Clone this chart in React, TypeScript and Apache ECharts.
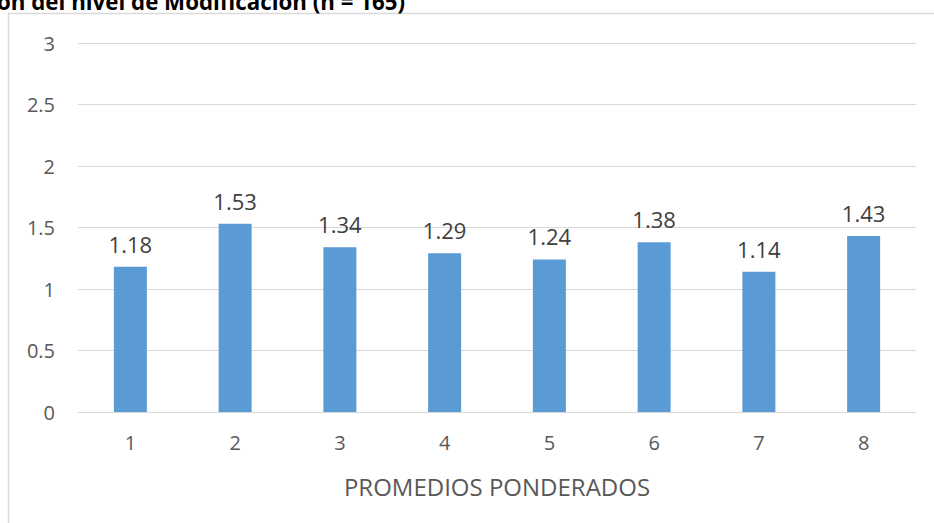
import React, { useEffect, useRef } from "react";
import * as echarts from "echarts";

const categories = ["1", "2", "3", "4", "5", "6", "7", "8"];
const values = [1.18, 1.53, 1.34, 1.29, 1.24, 1.38, 1.14, 1.43];
const yTicks = [0, 0.5, 1, 1.5, 2, 2.5, 3];
const titleText = "ón del nivel de Modificación (n = 165)";
const xAxisTitle = "PROMEDIOS PONDERADOS";

export default function App() {
  const ref = useRef<HTMLDivElement>(null);
  useEffect(() => {
    if (!ref.current) return;
    const chart = echarts.init(ref.current, null, { renderer: "svg" });
    const font = "Open Sans, Noto Sans, sans-serif";
    chart.setOption({
      animation: false,
      backgroundColor: "#ffffff",
      graphic: [
        {
          type: "rect",
          shape: { x: 8.5, y: 13.5, width: 1000, height: 600 },
          style: { fill: "none", stroke: "#d9d9d9", lineWidth: 1.5 },
          silent: true,
        },
        {
          type: "text",
          x: -3,
          y: -10,
          style: {
            text: titleText,
            font: "bold 22.3px " + font,
            fill: "#000000",
          },
          silent: true,
        },
      ],
      grid: { left: 78, right: 18, top: 43, bottom: 111 },
      xAxis: {
        type: "category",
        data: categories,
        name: xAxisTitle,
        nameLocation: "middle",
        nameGap: 62,
        nameTextStyle: { color: "#595959", fontSize: 24, fontFamily: font },
        axisLine: { lineStyle: { color: "#d9d9d9", width: 1 } },
        axisTick: { show: false },
        axisLabel: { color: "#595959", fontSize: 20, fontFamily: font, margin: 20 },
      },
      yAxis: {
        type: "value",
        min: yTicks[0],
        max: yTicks[yTicks.length - 1],
        interval: 0.5,
        axisLine: { show: false },
        axisTick: { show: false },
        splitLine: { lineStyle: { color: "#d9d9d9", width: 1 } },
        axisLabel: { color: "#595959", fontSize: 20, fontFamily: font, margin: 23 },
      },
      series: [
        {
          type: "bar",
          data: values,
          barWidth: 33,
          itemStyle: { color: "#5b9bd5" },
          label: {
            show: true,
            position: "top",
            distance: 12,
            color: "#404040",
            fontSize: 22,
            fontFamily: font,
            formatter: (p: any) => p.value.toFixed(2),
          },
        },
      ],
    });
    return () => chart.dispose();
  }, []);
  return (
    <div
      ref={ref}
      style={{ position: "fixed", left: 0, top: 0, width: 934, height: 523 }}
    />
  );
}
